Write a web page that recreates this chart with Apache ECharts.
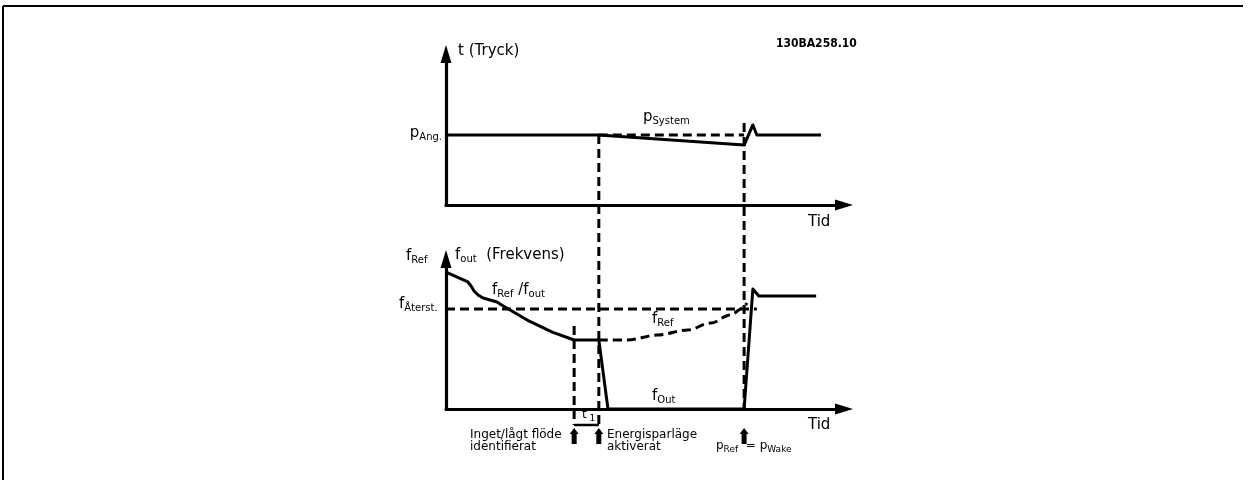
<!DOCTYPE html>
<html>
<head>
<meta charset="utf-8">
<script src="https://cdn.jsdelivr.net/npm/echarts@6/dist/echarts.min.js"></script>
<style>
  html, body { margin: 0; padding: 0; background: #fff; }
  #chart { width: 1248px; height: 480px; }
</style>
</head>
<body>
<div id="chart"></div>
<script>
// Event times on the shared time axis (arbitrary units, 0..100)
const T_LOWFLOW = 32.2;   // no/low flow detected
const T_SLEEP = 38.4;     // sleep mode activated
const T_WAKE = 74.9;      // pRef = pWake

// Pressure panel (0..100)
const P_SET = 46.4;
const P_WAKE_MARK = 54.3;
const pressureActual = [[0, 46.4], [38.4, 46.4], [74.9, 39.7], [77.1, 53.0], [78.1, 46.4], [94.2, 46.4]];
const pressureSetpoint = [[38.4, 46.4], [74.9, 46.4]];

// Frequency panel (0..100)
const F_RESTART = 66.7;
const F_LOWFLOW_MARK = 55.3;
const freqBeforeSleep = [
  [0, 91.3], [5.5, 84.7], [6.3, 82.0], [7.05, 78.7], [8.06, 76.0], [9.3, 74.0],
  [11.1, 72.7], [12.8, 71.3], [14.4, 68.7], [20.4, 59.3], [26.7, 51.3], [32.2, 46.0], [38.4, 46.0]
];
const freqOutput = [[38.4, 46.0], [40.7, 0], [74.9, 0], [77.1, 80.0], [78.6, 75.3], [93.0, 75.3]];
const freqReference = [[38.4, 46.0], [45.6, 46.0], [53.1, 49.3], [60.7, 52.7], [66.5, 57.3], [71.5, 62.7], [74.6, 67.3], [75.6, 70.7]];
const freqRestart = [[0, 66.7], [78.1, 66.7]];

const FONT = '"DejaVu Sans", Verdana, sans-serif';
const INK = '#000';
const DASH = [9, 5];

const chart = echarts.init(document.getElementById('chart'));

function valueAxis(gridIndex) {
  return {
    type: 'value', gridIndex, min: 0, max: 100,
    axisLine: {
      show: true, onZero: false,
      symbol: ['none', 'triangle'], symbolSize: [11, 18],
      lineStyle: { color: INK, width: 3.2 }
    },
    axisTick: { show: false }, axisLabel: { show: false }, splitLine: { show: false }
  };
}

function line(name, data, gridIndex, dashed, smooth) {
  return {
    name, type: 'line', data, xAxisIndex: gridIndex, yAxisIndex: gridIndex,
    showSymbol: false, symbol: 'none', smooth: smooth || false, smoothMonotone: 'x',
    animation: false, silent: true,
    lineStyle: { color: INK, width: 3, type: dashed ? DASH : 'solid', cap: 'butt', join: 'round' }
  };
}

chart.setOption({
  backgroundColor: '#fff',
  animation: false,
  grid: [
    { left: 446, top: 54, width: 398, height: 151 },
    { left: 446, top: 259, width: 398, height: 150 }
  ],
  xAxis: [valueAxis(0), valueAxis(1)],
  yAxis: [valueAxis(0), valueAxis(1)],
  series: [
    line('pSystem', pressureActual, 0, false),
    line('pAng', pressureSetpoint, 0, true),
    line('fRef/fout', freqBeforeSleep, 1, false),
    line('fOut', freqOutput, 1, false),
    line('fRef', freqReference, 1, true, 0.35),
    line('fAterst', freqRestart, 1, true)
  ]
});

// ---- annotations: event lines, bracket, arrows, text ----
const toPressure = (x, y) => chart.convertToPixel({ xAxisIndex: 0, yAxisIndex: 0 }, [x, y]);
const toFreq = (x, y) => chart.convertToPixel({ xAxisIndex: 1, yAxisIndex: 1 }, [x, y]);

const dash = { stroke: INK, lineWidth: 3, lineDash: DASH };
const solid = { stroke: INK, lineWidth: 2.5 };
const g = [];

function seg(p1, p2, style) {
  g.push({ type: 'line', silent: true, shape: { x1: p1[0], y1: p1[1], x2: p2[0], y2: p2[1] }, style });
}

const BRACKET_DROP = 16;
const lowTop = toFreq(T_LOWFLOW, F_LOWFLOW_MARK);
const lowAxis = toFreq(T_LOWFLOW, 0);
const sleepTop = toPressure(T_SLEEP, P_SET);
const sleepAxis = toFreq(T_SLEEP, 0);
const wakeTop = toPressure(T_WAKE, P_WAKE_MARK);
const wakeAxis = toFreq(T_WAKE, 0);

seg(lowTop, [lowAxis[0], lowAxis[1] + BRACKET_DROP], dash);
seg(sleepTop, [sleepAxis[0], sleepAxis[1] + BRACKET_DROP], dash);
seg(wakeTop, [wakeAxis[0], wakeAxis[1] + 2], dash);
// t1 bracket
seg([lowAxis[0], lowAxis[1] + BRACKET_DROP], [sleepAxis[0], sleepAxis[1] + BRACKET_DROP], solid);

// thick upward event arrows
function upArrow(p) {
  const x = p[0], y = p[1] + 19;
  g.push({
    type: 'polygon', silent: true,
    shape: { points: [[x, y], [x + 4.5, y + 6], [x + 2.5, y + 6], [x + 2.5, y + 16], [x - 2.5, y + 16], [x - 2.5, y + 6], [x - 4.5, y + 6]] },
    style: { fill: INK }
  });
}
upArrow(lowAxis); upArrow(sleepAxis); upArrow(wakeAxis);

// text helpers
function richStyle(size, subSize, drop) {
  return {
    m: { fontFamily: FONT, fontSize: size, color: INK, verticalAlign: 'top' },
    s: { fontFamily: FONT, fontSize: subSize, color: INK, verticalAlign: 'top', padding: [drop, 0, 0, 0] }
  };
}
function text(x, y, str, opt) {
  opt = opt || {};
  const size = opt.size || 15;
  g.push({
    type: 'text', silent: true, x, y,
    style: {
      text: str,
      fontFamily: opt.family || FONT, fontSize: size, fontWeight: opt.weight || 'normal', fill: INK,
      align: opt.align || 'left', textAlign: opt.align || 'left',
      verticalAlign: 'top', textVerticalAlign: 'top',
      lineHeight: opt.lineHeight,
      rich: opt.rich
    }
  });
}
const r15 = richStyle(15, 10, 6);
const r12 = richStyle(12, 9, 5);

text(458, 44, 't (Tryck)', { size: 15 });
text(442, 126, '{m|p}{s|Ang.}', { rich: r15, align: 'right' });
text(643, 110, '{m|p}{s|System}', { rich: r15 });
text(776, 38, '130BA258.10', { size: 12, weight: 'bold', family: '"DejaVu Sans Condensed", "DejaVu Sans", sans-serif' });
text(808, 215, 'Tid', { size: 15 });

text(406, 249, '{m|f}{s|Ref}', { rich: r15 });
text(455, 248, '{m|f}{s|out}{m|  (Frekvens)}', { rich: r15 });
text(492, 283, '{m|f}{s|Ref}{m| /f}{s|out}', { rich: r15 });
text(399, 297, '{m|f}{s|Återst.}', { rich: r15 });
text(652, 312, '{m|f}{s|Ref}', { rich: r15 });
text(652, 389, '{m|f}{s|Out}', { rich: r15 });
text(808, 418, 'Tid', { size: 15 });

text(582, 409, '{m|t}{s| 1}', { rich: r12 });
text(470, 429, 'Inget/lågt flöde\nidentifierat', { size: 12, lineHeight: 12 });
text(607, 429, 'Energisparläge\naktiverat', { size: 12, lineHeight: 12 });
text(716, 440, '{m|p}{s|Ref}{m|  = p}{s|Wake}', { rich: r12 });

// frame
g.push({ type: 'line', silent: true, shape: { x1: 3, y1: 6, x2: 1243, y2: 6 }, style: { stroke: INK, lineWidth: 2 } });
g.push({ type: 'line', silent: true, shape: { x1: 3, y1: 6, x2: 3, y2: 480 }, style: { stroke: INK, lineWidth: 2 } });

chart.setOption({ graphic: g });
</script>
</body>
</html>
